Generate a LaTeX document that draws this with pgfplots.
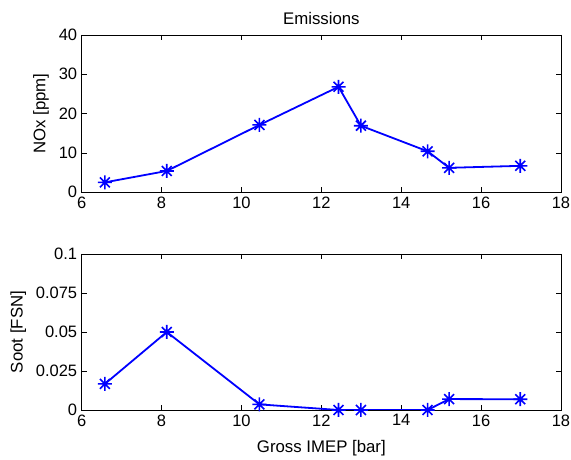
\documentclass[border=0pt]{standalone}
\usepackage{fontspec}
\setmainfont{Liberation Sans}
\usepackage{pgfplots}
\pgfplotsset{compat=1.18}

% eight-armed star marker (plus and cross combined)
\pgfdeclareplotmark{mstar}{%
  \pgfpathmoveto{\pgfqpoint{0pt}{\pgfplotmarksize}}%
  \pgfpathlineto{\pgfqpoint{0pt}{-\pgfplotmarksize}}%
  \pgfpathmoveto{\pgfqpoint{\pgfplotmarksize}{0pt}}%
  \pgfpathlineto{\pgfqpoint{-\pgfplotmarksize}{0pt}}%
  \pgfpathmoveto{\pgfqpoint{.7071\pgfplotmarksize}{.7071\pgfplotmarksize}}%
  \pgfpathlineto{\pgfqpoint{-.7071\pgfplotmarksize}{-.7071\pgfplotmarksize}}%
  \pgfpathmoveto{\pgfqpoint{.7071\pgfplotmarksize}{-.7071\pgfplotmarksize}}%
  \pgfpathlineto{\pgfqpoint{-.7071\pgfplotmarksize}{.7071\pgfplotmarksize}}%
  \pgfusepathqstroke}

\definecolor{mblue}{RGB}{0,0,255}

\pgfplotstableread{
imep  nox   soot
6.58  2.5   0.0167
8.13  5.4   0.0500
10.45 17.1  0.0036
12.43 26.8  0.0
12.99 16.9  0.0
14.66 10.4  0.0
15.20 6.2   0.0070
16.98 6.7   0.0069
}\emis

\pgfplotsset{
  mstyle/.style={
    scale only axis,
    width=479.3pt,
    xmin=6, xmax=18,
    xtick={6,8,...,18},
    tick align=inside,
    major tick length=5pt,
    tick style={black, line width=0.6pt},
    axis line style={black, line width=0.6pt},
    every tick label/.append style={font=\fontsize{16.5}{18}\selectfont},
    label style={font=\fontsize{16.8}{19}\selectfont},
    /pgf/number format/assume math mode=true,
    xticklabel style={yshift=-1pt},
    yticklabel style={xshift=-1pt},
    ylabel shift=3pt,
  },
  mline/.style={color=mblue, line width=1.8pt, mark=mstar, mark size=7pt,
    mark options={line width=1.6pt}},
}

\begin{document}
\begin{tikzpicture}
\useasboundingbox (0pt,0pt) rectangle (571pt,460pt);

\begin{axis}[mstyle,
  at={(81.7pt,267.8pt)}, anchor=south west,
  height=157.3pt,
  ymin=0, ymax=40, ytick={0,10,...,40},
  ylabel={NOx [ppm]},
  title={Emissions},
  title style={font=\fontsize{16.8}{19}\selectfont, yshift=1pt},
]
\addplot[mline] table[x=imep, y=nox] {\emis};
\end{axis}

\begin{axis}[mstyle,
  at={(81.7pt,50pt)}, anchor=south west,
  height=156pt,
  ymin=0, ymax=0.1, ytick={0,0.025,0.05,0.075,0.1},
  yticklabels={0,0.025,0.05,0.075,0.1},
  ylabel={Soot [FSN]},
  xlabel={Gross IMEP [bar]},
  xlabel shift=7pt,
]
\addplot[mline] table[x=imep, y=soot] {\emis};
\end{axis}
\end{tikzpicture}
\end{document}
